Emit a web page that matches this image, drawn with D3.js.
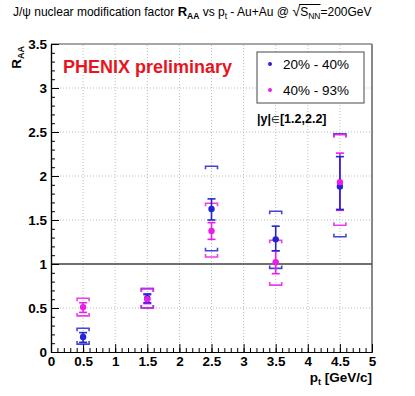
<!DOCTYPE html>
<html><head><meta charset="utf-8">
<script src="https://cdn.jsdelivr.net/npm/d3@7"></script>
<style>body{margin:0;background:#fff}svg{display:block}text{font-family:"Liberation Sans",Arial,Helvetica,sans-serif}</style>
</head><body>
<svg id="c" width="415" height="396"></svg>
<script>
const pt = [0.5, 1.5, 2.5, 3.5, 4.5];
const blueVal    = [0.17, 0.61, 1.625, 1.28, 1.88];
const blueStatLo = [0.11, 0.56, 1.50, 1.15, 1.62];
const blueStatHi = [0.22, 0.66, 1.74, 1.43, 2.22];
const blueSysLo  = [0.09, 0.50, 1.15, 0.95, 1.31];
const blueSysHi  = [0.27, 0.72, 2.11, 1.60, 2.48];
const magVal    = [0.51, 0.60, 1.375, 1.02, 1.93];
const magStatLo = [0.45, 0.55, 1.28, 0.89, 1.61];
const magStatHi = [0.56, 0.65, 1.47, 1.15, 2.26];
const magSysLo  = [0.41, 0.50, 1.08, 0.76, 1.44];
const magSysHi  = [0.61, 0.72, 1.69, 1.27, 2.47];
const xTicks = [0, 0.5, 1, 1.5, 2, 2.5, 3, 3.5, 4, 4.5, 5];
const yTicks = [0, 0.5, 1, 1.5, 2, 2.5, 3, 3.5];
const legendLabels = ["20% - 40%", "40% - 93%"];
const blueC = "#2424d4", magC = "#e81ee8";

const svg = d3.select("#c");
const x = d3.scaleLinear([0, 5], [51, 372]);
const y = d3.scaleLinear([0, 3.5], [352, 44]);

// grid
const g = svg.append("g");
g.selectAll("line.gx").data(xTicks.slice(1, -1)).join("line")
  .attr("x1", d => x(d)).attr("x2", d => x(d)).attr("y1", y(0)).attr("y2", y(3.5))
  .attr("stroke", "#bbb").attr("stroke-width", 1).attr("stroke-dasharray", "1,2");
g.selectAll("line.gy").data(yTicks.slice(1, -1)).join("line")
  .attr("y1", d => y(d)).attr("y2", d => y(d)).attr("x1", x(0)).attr("x2", x(5))
  .attr("stroke", "#bbb").attr("stroke-width", 1).attr("stroke-dasharray", "1,2");

// frame top/right
svg.append("line").attr("x1", x(0)).attr("x2", x(5)).attr("y1", y(3.5)).attr("y2", y(3.5)).attr("stroke", "#888").attr("stroke-width", 1.5);
svg.append("line").attr("x1", x(5)).attr("x2", x(5)).attr("y1", y(3.5)).attr("y2", y(0)).attr("stroke", "#888").attr("stroke-width", 2);

// line at 1
svg.append("line").attr("x1", x(0)).attr("x2", x(5)).attr("y1", y(1)).attr("y2", y(1)).attr("stroke", "#444").attr("stroke-width", 1.5);

// axes
const minorX = d3.range(0, 50.5, 1).map(d => d / 10);
const minorY = d3.range(0, 35.5, 1).map(d => d / 10);
const fmt = d => d3.format("~g")(d);
const ax = svg.append("g").attr("transform", `translate(0,${y(0)})`)
  .call(d3.axisBottom(x).tickValues(minorX).tickFormat("").tickSize(-4).tickSizeOuter(0));
const ax2 = svg.append("g").attr("transform", `translate(0,${y(0)})`)
  .call(d3.axisBottom(x).tickValues(xTicks).tickFormat(fmt).tickSize(-8).tickSizeOuter(0).tickPadding(4));
const ay = svg.append("g").attr("transform", `translate(${x(0)},0)`)
  .call(d3.axisLeft(y).tickValues(minorY).tickFormat("").tickSize(-4).tickSizeOuter(0));
const ay2 = svg.append("g").attr("transform", `translate(${x(0)},0)`)
  .call(d3.axisLeft(y).tickValues(yTicks).tickFormat(fmt).tickSize(-8).tickSizeOuter(0).tickPadding(4));
svg.selectAll(".domain").attr("stroke", "#000").attr("stroke-width", 1.2);
svg.selectAll(".tick line").attr("stroke", "#000");
[ax2, ay2].forEach(a => a.selectAll("text").attr("font-size", 13.5).attr("font-weight", "bold")
  .attr("font-family", "Liberation Sans, Arial, sans-serif").attr("fill", "#000"));

// error bars
function makeSeries(val, sLo, sHi, yLo, yHi, col) {
  const d = pt.map((p, i) => ({p, v: val[i], sLo: sLo[i], sHi: sHi[i], yLo: yLo[i], yHi: yHi[i]}));
  return {d, col};
}
const blue = makeSeries(blueVal, blueStatLo, blueStatHi, blueSysLo, blueSysHi, blueC);
const mag = makeSeries(magVal, magStatLo, magStatHi, magSysLo, magSysHi, magC);

function sys(s) {
  const gg = svg.append("g").attr("stroke", s.col).attr("stroke-width", 1.6).attr("fill", "none").attr("opacity", 0.85);
  s.d.forEach(e => {
    const cx = x(e.p), w = 6, h = 3;
    gg.append("path").attr("d", `M${cx - w},${y(e.yHi) + h}V${y(e.yHi)}H${cx + w}V${y(e.yHi) + h}`);
    gg.append("path").attr("d", `M${cx - w},${y(e.yLo) - h}V${y(e.yLo)}H${cx + w}V${y(e.yLo) - h}`);
  });
}
function stat(s) {
  const gg = svg.append("g").attr("stroke", s.col).attr("stroke-width", 1.6);
  s.d.forEach(e => {
    const cx = x(e.p), w = 4;
    gg.append("line").attr("x1", cx).attr("x2", cx).attr("y1", y(e.sLo)).attr("y2", y(e.sHi));
    gg.append("line").attr("x1", cx - w).attr("x2", cx + w).attr("y1", y(e.sLo)).attr("y2", y(e.sLo));
    gg.append("line").attr("x1", cx - w).attr("x2", cx + w).attr("y1", y(e.sHi)).attr("y2", y(e.sHi));
  });
}
function pts(s) {
  svg.append("g").selectAll("circle").data(s.d).join("circle")
    .attr("cx", e => x(e.p)).attr("cy", e => y(e.v)).attr("r", 3.2).attr("fill", s.col);
}
sys(blue); sys(mag);
stat(mag); stat(blue);
pts(blue); pts(mag);

// title
const t = svg.append("text").attr("x", 13).attr("y", 16).attr("font-size", 12).attr("fill", "#000");
t.append("tspan").text("J/ψ nuclear modification factor ");
t.append("tspan").attr("font-weight", "bold").attr("font-size", 13).text("R");
t.append("tspan").attr("font-weight", "bold").attr("font-size", 8.5).attr("dy", 3).text("AA");
t.append("tspan").attr("dy", -3).text(" vs p");
t.append("tspan").attr("font-size", 8.5).attr("dy", 3).text("t");
t.append("tspan").attr("dy", -3).text(" - Au+Au @ ");
t.append("tspan").attr("font-size", 14.5).text("√");
t.append("tspan").text("S");
t.append("tspan").attr("font-size", 8.5).attr("dy", 3).text("NN");
t.append("tspan").attr("dy", -3).text("=200GeV");
// overline for sqrt
const tn = t.node();
const txt = tn.textContent;
const iS = txt.indexOf("√");
const iEq = txt.indexOf("=200");
if (iS >= 0) {
  const a = tn.getExtentOfChar(iS), b = tn.getExtentOfChar(iEq);
  svg.append("line").attr("x1", a.x + a.width - 1).attr("x2", b.x).attr("y1", a.y + 1.5).attr("y2", a.y + 1.5)
    .attr("stroke", "#000").attr("stroke-width", 1);
}

// PHENIX preliminary
svg.append("text").attr("x", 63).attr("y", 73).attr("font-size", 18).attr("font-weight", "bold")
  .attr("fill", "#e8141e").text("PHENIX preliminary");

// legend
const lg = svg.append("g");
lg.append("rect").attr("x", 257).attr("y", 52).attr("width", 107).attr("height", 51)
  .attr("fill", "#fff").attr("stroke", "#666").attr("stroke-width", 1.2);
[blueC, magC].forEach((c, i) => {
  lg.append("circle").attr("cx", 270).attr("cy", 64 + i * 26).attr("r", 2).attr("fill", c);
  lg.append("text").attr("x", 283).attr("y", 69 + i * 26).attr("font-size", 13.5).attr("fill", "#000").text(legendLabels[i]);
});

// rapidity label
const yl = svg.append("text").attr("x", 257).attr("y", 123).attr("font-size", 12.5).attr("font-weight", "bold").attr("fill", "#000");
yl.append("tspan").text("|y|");
yl.append("tspan").attr("font-weight", "normal").attr("font-size", 10).text("∈");
yl.append("tspan").text("[1.2,2.2]");

// axis titles
const xt = svg.append("text").attr("x", 372).attr("y", 382).attr("text-anchor", "end").attr("font-size", 13.5).attr("font-weight", "bold").attr("fill", "#000");
xt.append("tspan").text("p");
xt.append("tspan").attr("font-size", 9).attr("dy", 3).text("t");
xt.append("tspan").attr("dy", -3).text(" [GeV/c]");

const yt = svg.append("text").attr("transform", "translate(21,46) rotate(-90)").attr("text-anchor", "end")
  .attr("font-size", 13.5).attr("font-weight", "bold").attr("fill", "#000");
yt.append("tspan").text("R");
yt.append("tspan").attr("font-size", 9).attr("dy", 3).text("AA");
</script>
</body></html>
